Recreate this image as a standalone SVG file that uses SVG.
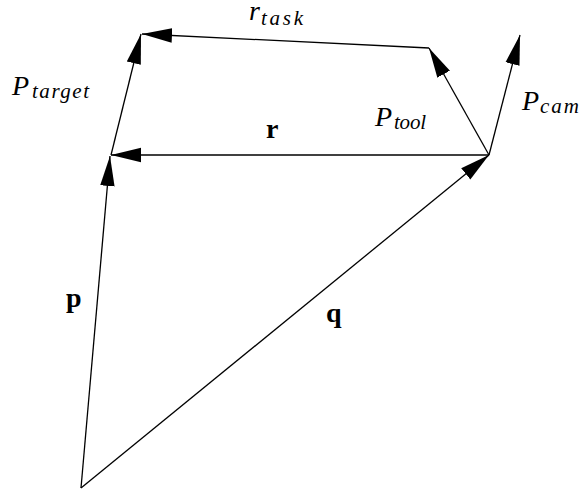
<svg xmlns="http://www.w3.org/2000/svg" width="581" height="493" viewBox="0 0 581 493">
<style>
.v{stroke:#000;stroke-width:1.3;fill:none;marker-end:url(#ah)}
.m{font-family:"Liberation Serif",serif;font-style:italic;font-size:28px;fill:#000}
.s{font-size:21px}
.b{font-family:"Liberation Serif",serif;font-weight:bold;font-size:28px;fill:#000}
</style>
<defs>
<marker id="ah" markerUnits="userSpaceOnUse" markerWidth="30" markerHeight="16" viewBox="0 0 27 13" refX="27" refY="6.5" orient="auto">
<path d="M0,0 L27,6.5 L0,13 Z" fill="#000"/>
</marker>
</defs>
<g id="connectors">
<line id="p" class="v" x1="81" y1="488" x2="110" y2="156"/>
<line id="q" class="v" x1="81" y1="488" x2="489" y2="155"/>
<line id="r" class="v" x1="489" y1="155" x2="111" y2="155"/>
<line id="ptarget" class="v" x1="111" y1="155" x2="141" y2="34"/>
<line id="rtask" class="v" x1="429" y1="48" x2="142" y2="34"/>
<line id="ptool" class="v" x1="489" y1="155" x2="429" y2="48"/>
<line id="pcam" class="v" x1="489" y1="155" x2="520" y2="35"/>
</g>
<g id="labels">
<text id="l-ptarget" class="m" x="12" y="95">P<tspan class="s" x="32" dy="3" textLength="57" lengthAdjust="spacing">target</tspan></text>
<text id="l-rtask" class="m" x="249" y="20">r<tspan class="s" x="261" dy="5" textLength="42" lengthAdjust="spacing">task</tspan></text>
<text id="l-ptool" class="m" x="375" y="126">P<tspan class="s" x="394" dy="3" textLength="32" lengthAdjust="spacing">tool</tspan></text>
<text id="l-pcam" class="m" x="522" y="110">P<tspan class="s" x="540" dy="3" textLength="39" lengthAdjust="spacing">cam</tspan></text>
<text id="l-r" class="b" x="266" y="138">r</text>
<text id="l-p" class="b" x="66" y="307">p</text>
<text id="l-q" class="b" x="326" y="322">q</text>
</g>
</svg>
